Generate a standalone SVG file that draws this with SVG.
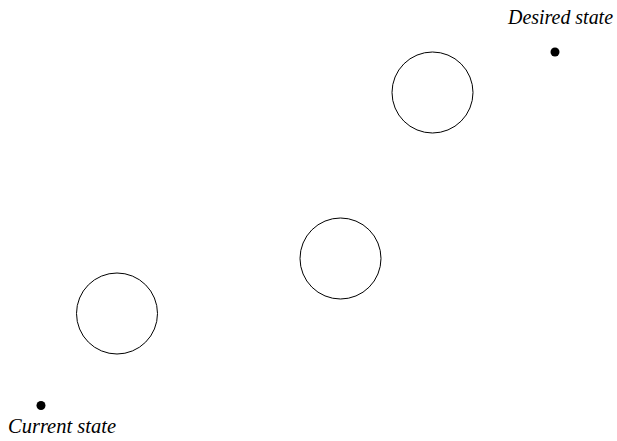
<svg xmlns="http://www.w3.org/2000/svg" width="617" height="441" viewBox="0 0 617 441">
<style>
.c{fill:none;stroke:#000;stroke-width:1}
.d{fill:#000}
.t{font-family:"Liberation Serif",serif;font-style:italic;font-size:20px;fill:#000}
</style>
<rect width="617" height="441" fill="#fff"/>
<g id="current"><circle class="d" cx="41" cy="405.5" r="4.5"/><text class="t" x="8" y="433" textLength="108" lengthAdjust="spacingAndGlyphs">Current state</text></g>
<g id="desired"><circle class="d" cx="555" cy="52" r="4.5"/><text class="t" x="508" y="24" textLength="105" lengthAdjust="spacingAndGlyphs">Desired state</text></g>
<g id="step1"><circle class="c" cx="117" cy="313.5" r="40.5"/></g>
<g id="step2"><circle class="c" cx="340.5" cy="258.5" r="40.5"/></g>
<g id="step3"><circle class="c" cx="432.5" cy="92.5" r="40.5"/></g>
<g id="connectors"></g>
</svg>
